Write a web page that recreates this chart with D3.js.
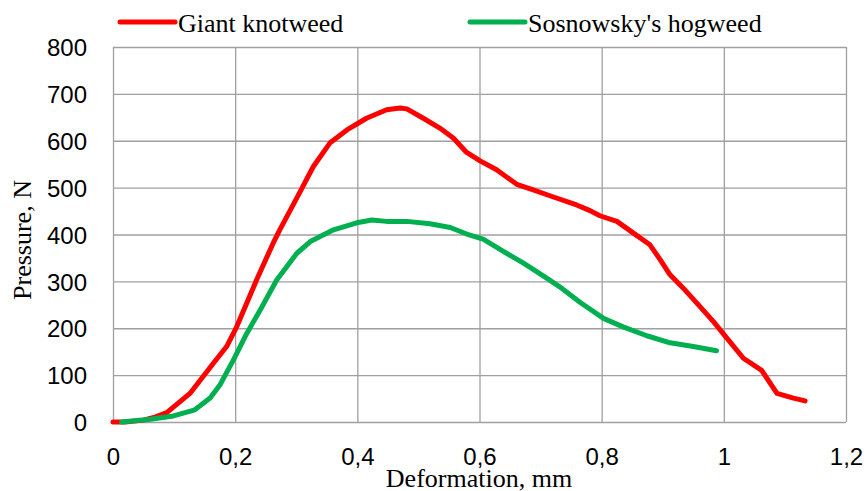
<!DOCTYPE html>
<html lang="en">
<head>
<meta charset="utf-8">
<title>Pressure vs deformation</title>
<script src="https://cdn.jsdelivr.net/npm/d3@7"></script>
<style>
  body { margin: 0; background: #fff; }
  svg { display: block; }
</style>
</head>
<body>
<script>
// data
var knotweedDef = [0, 0.02, 0.05, 0.07, 0.088, 0.126, 0.164, 0.186, 0.2025, 0.235,
                   0.262, 0.273, 0.301, 0.328, 0.355, 0.383, 0.415, 0.448, 0.47, 0.481,
                   0.508, 0.535, 0.557, 0.579, 0.601, 0.628, 0.661, 0.688, 0.721, 0.759,
                   0.781, 0.797, 0.825, 0.852, 0.879, 0.896, 0.912, 0.934, 0.961, 0.983,
                   1.005, 1.032, 1.062, 1.087, 1.114, 1.133];
var knotweedPress = [0, 0, 4, 11, 20, 61, 125, 161, 203, 303,
                     381, 410, 478, 545, 595, 623, 648, 666, 670, 668,
                     648, 627, 606, 575, 557, 538, 507, 495, 480, 463,
                     451, 440, 428, 403, 378, 346, 314, 285, 246, 214,
                     179, 136, 110, 61, 51, 45];

var hogweedDef = [0.014, 0.061, 0.099, 0.134, 0.159, 0.175, 0.197, 0.219, 0.241, 0.268,
                  0.301, 0.323, 0.361, 0.399, 0.424, 0.448, 0.481, 0.519, 0.552, 0.579,
                  0.606, 0.639, 0.672, 0.710, 0.735, 0.765, 0.803, 0.835, 0.874, 0.912,
                  0.950, 0.988];
var hogweedPress = [0, 6, 13, 26, 51, 79, 132, 189, 239, 303,
                    360, 385, 410, 425, 431, 428, 428, 423, 415, 401,
                    390, 364, 339, 307, 285, 255, 221, 203, 184, 169,
                    161, 152];

var seriesNames = ["Giant knotweed", "Sosnowsky's hogweed"];
var seriesColors = ["#ff0000", "#00b050"];
var xTicks = [0, 0.2, 0.4, 0.6, 0.8, 1, 1.2];
var yTicks = [0, 100, 200, 300, 400, 500, 600, 700, 800];

var w = 864, h = 491;
var plotL = 113, plotR = 846, plotT = 47, plotB = 422;

var svg = d3.select("body").append("svg")
  .attr("width", w)
  .attr("height", h);

var x = d3.scaleLinear().domain([0, 1.2]).range([plotL, plotR]);
var y = d3.scaleLinear().domain([0, 800]).range([plotB, plotT]);

var fmt = function(d) { return String(d).replace(".", ","); };

// grid + x axis
var xAxis = svg.append("g")
  .attr("transform", "translate(0," + plotB + ")")
  .call(d3.axisBottom(x).tickValues(xTicks).tickSize(-(plotB - plotT)).tickSizeOuter(0).tickFormat(fmt));
xAxis.select(".domain").remove();
xAxis.selectAll("line").attr("stroke", "#a0a0a0").attr("stroke-width", 1.3);
xAxis.selectAll("text")
  .attr("y", 43)
  .attr("dy", 0)
  .attr("fill", "#000")
  .attr("font-family", "Liberation Sans, Arial, sans-serif")
  .attr("font-size", "24px");

var yAxis = svg.append("g")
  .attr("transform", "translate(" + plotL + ",0)")
  .call(d3.axisLeft(y).tickValues(yTicks).tickSize(-(plotR - plotL)).tickSizeOuter(0));
yAxis.select(".domain").remove();
yAxis.selectAll("line").attr("stroke", "#a0a0a0").attr("stroke-width", 1.3);
yAxis.selectAll("text")
  .attr("x", -26)
  .attr("dy", "0.36em")
  .attr("fill", "#000")
  .attr("font-family", "Liberation Sans, Arial, sans-serif")
  .attr("font-size", "24px");

// lines
var line = d3.line()
  .x(function(d) { return x(d[0]); })
  .y(function(d) { return y(d[1]); });

var series = [
  d3.zip(knotweedDef, knotweedPress),
  d3.zip(hogweedDef, hogweedPress)
];

svg.selectAll("path.series")
  .data(series)
  .enter()
  .append("path")
  .attr("class", "series")
  .attr("d", line)
  .attr("fill", "none")
  .attr("stroke", function(d, i) { return seriesColors[i]; })
  .attr("stroke-width", 5)
  .attr("stroke-linejoin", "round")
  .attr("stroke-linecap", "round");

// axis titles
svg.append("text")
  .attr("x", 479)
  .attr("y", 487)
  .attr("text-anchor", "middle")
  .attr("font-family", "Liberation Serif, Times New Roman, serif")
  .attr("font-size", "26px")
  .text("Deformation, mm");

svg.append("text")
  .attr("transform", "translate(31,240) rotate(-90)")
  .attr("text-anchor", "middle")
  .attr("font-family", "Liberation Serif, Times New Roman, serif")
  .attr("font-size", "26px")
  .text("Pressure, N");

// legend
var legendX = [120, 470];
var legend = svg.selectAll("g.legend")
  .data(seriesNames)
  .enter()
  .append("g")
  .attr("class", "legend")
  .attr("transform", function(d, i) { return "translate(" + legendX[i] + ",22)"; });

legend.append("line")
  .attr("x1", 0).attr("x2", 55)
  .attr("y1", 0).attr("y2", 0)
  .attr("stroke", function(d, i) { return seriesColors[i]; })
  .attr("stroke-width", 5)
  .attr("stroke-linecap", "round");

legend.append("text")
  .attr("x", 58)
  .attr("y", 10)
  .attr("font-family", "Liberation Serif, Times New Roman, serif")
  .attr("font-size", "26px")
  .text(function(d) { return d; });
</script>
</body>
</html>
